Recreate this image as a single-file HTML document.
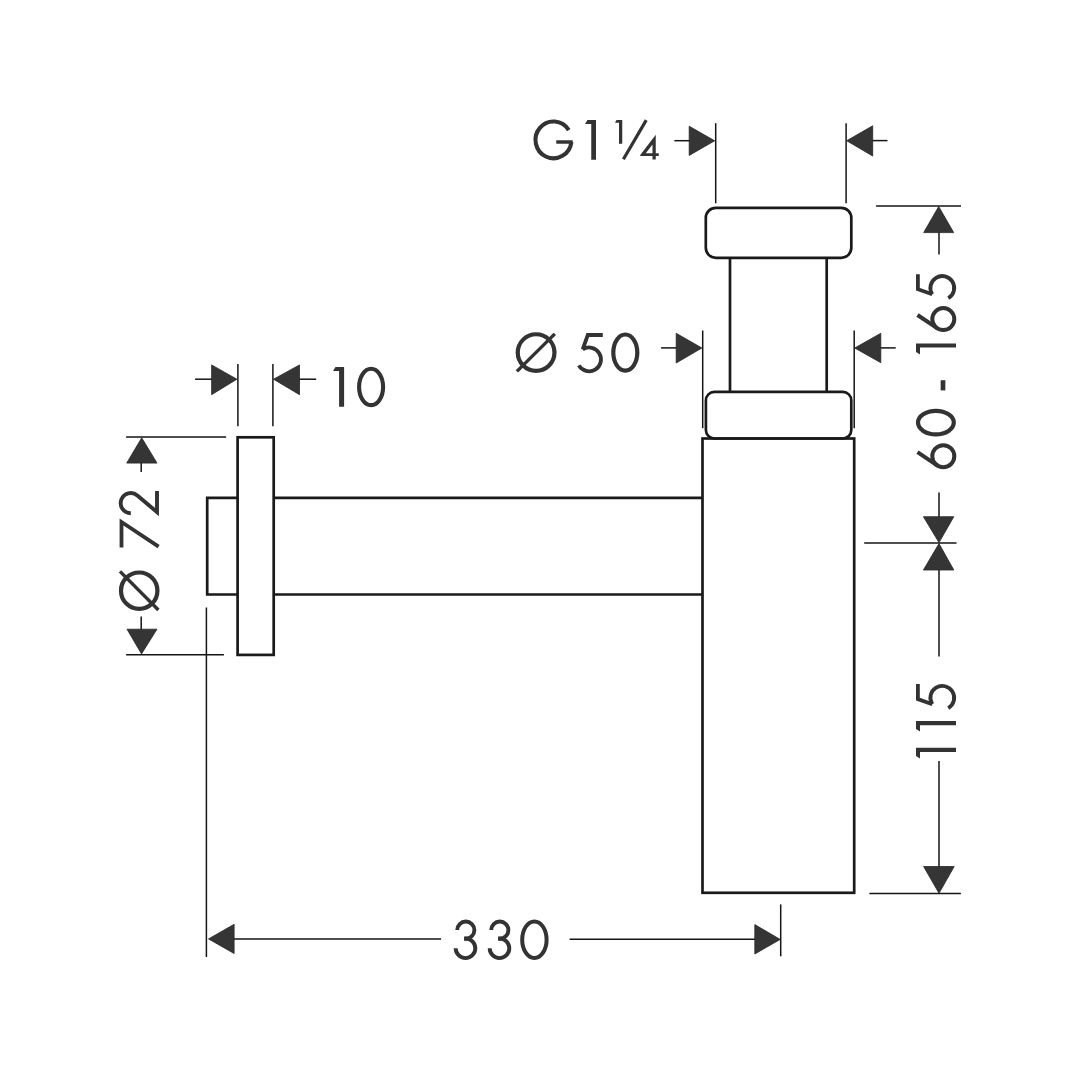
<!DOCTYPE html>
<html><head><meta charset="utf-8">
<style>
html,body{margin:0;padding:0;background:#fff;}
body{width:1080px;height:1080px;overflow:hidden;font-family:"Liberation Sans",sans-serif;}
svg{display:block;}
</style></head>
<body>
<svg width="1080" height="1080" viewBox="0 0 1080 1080">
<rect width="1080" height="1080" fill="#fff"/>
<!-- body -->
<g fill="none" stroke="#1a1a1a" stroke-width="2.7" stroke-linejoin="miter">
  <rect x="705.8" y="207.8" width="145.5" height="50" rx="10" ry="10"/>
  <line x1="730" y1="257.8" x2="730" y2="391.9"/>
  <line x1="826.7" y1="257.8" x2="826.7" y2="391.9"/>
  <rect x="705.9" y="391.9" width="145.4" height="46.6" rx="8.5" ry="8.5"/>
  <rect x="702.5" y="438.5" width="151.7" height="454.3"/>
  <line x1="273.7" y1="497.8" x2="702.5" y2="497.8"/>
  <line x1="273.7" y1="594.5" x2="702.5" y2="594.5"/>
  <rect x="237.6" y="437.3" width="36.1" height="217.6"/>
  <polyline points="237.6,497.8 207.2,497.8 207.2,594.5 237.6,594.5"/>
</g>
<!-- dimension lines -->
<g fill="none" stroke="#151515" stroke-width="1.5">
  <!-- G1 1/4 -->
  <line x1="715.7" y1="123.2" x2="715.7" y2="203.3"/>
  <line x1="846.1" y1="123.2" x2="846.1" y2="203.3"/>
  <line x1="674.4" y1="140.7" x2="690" y2="140.7"/>
  <line x1="872" y1="140.6" x2="887.5" y2="140.6"/>
  <!-- O50 -->
  <line x1="702.7" y1="330.5" x2="702.7" y2="428.2"/>
  <line x1="854.2" y1="330.5" x2="854.2" y2="428.2"/>
  <line x1="661.1" y1="347.9" x2="677" y2="347.9"/>
  <line x1="880" y1="347.9" x2="895.7" y2="347.9"/>
  <!-- right vertical -->
  <line x1="876.1" y1="206" x2="961" y2="206"/>
  <line x1="939" y1="232" x2="939" y2="254.4"/>
  <line x1="939" y1="492.4" x2="939" y2="517"/>
  <line x1="864.2" y1="543.1" x2="956.5" y2="543.1"/>
  <line x1="939" y1="569.5" x2="939" y2="656.5"/>
  <line x1="939" y1="761" x2="939" y2="867"/>
  <line x1="869.4" y1="893.5" x2="960.9" y2="893.5"/>
  <!-- 10 -->
  <line x1="237.9" y1="364" x2="237.9" y2="426.2"/>
  <line x1="272.9" y1="364" x2="272.9" y2="426.2"/>
  <line x1="195.1" y1="379.2" x2="212" y2="379.2"/>
  <line x1="299" y1="379.2" x2="316.2" y2="379.2"/>
  <!-- O72 -->
  <line x1="126.1" y1="436.9" x2="226.1" y2="436.9"/>
  <line x1="141.2" y1="462.5" x2="141.2" y2="471.9"/>
  <line x1="141.2" y1="616.4" x2="141.2" y2="629.8"/>
  <line x1="126.1" y1="654.8" x2="223.9" y2="654.8"/>
  <!-- 330 -->
  <line x1="206.4" y1="607.6" x2="206.4" y2="957"/>
  <line x1="780.7" y1="904.4" x2="780.7" y2="956.3"/>
  <line x1="233" y1="939.1" x2="441.1" y2="939.1"/>
  <line x1="569.6" y1="939.3" x2="755.5" y2="939.3"/>
</g>
<!-- arrows -->
<g fill="#353535" stroke="#262626" stroke-width="0.8" stroke-linejoin="miter">
  <polygon points="714.7,140.8 689.2,126.2 689.2,155.4"/>
  <polygon points="846.7,140.7 872.7,125.8 872.7,156.1"/>
  <polygon points="701.9,348 676.2,333.3 676.2,363"/>
  <polygon points="854.7,348 880.8,333.3 880.8,362.7"/>
  <polygon points="938.7,206.5 923.7,232.6 953.7,232.6"/>
  <polygon points="939,542.6 923.4,516.7 953.8,516.7"/>
  <polygon points="939,543.6 923.4,570 953.8,570"/>
  <polygon points="939,893.3 923.6,866.5 954.2,866.5"/>
  <polygon points="236.9,379.2 211.6,364.9 211.6,394.7"/>
  <polygon points="273.5,379.2 299.5,364.9 299.5,394.7"/>
  <polygon points="141.7,437.8 126.7,463.1 157,463.1"/>
  <polygon points="141.5,653.9 127,629.2 157,629.2"/>
  <polygon points="208.5,938.9 234.1,924.3 234.1,953.5"/>
  <polygon points="780.2,939.4 754.8,924.6 754.8,954"/>
</g>
<!-- text glyphs -->
<g fill="none" stroke="#333" stroke-width="4" stroke-linecap="butt" stroke-linejoin="miter">
  <!-- G1 1/4 -->
  <path d="M556.25 142 L572.7 142" stroke-width="3.5"/>
  <path d="M571.38 142 A18.0 18.4 0 1 1 568.76 130.15" stroke-width="4.1"/>
  <path d="M616.5,120 L622.25,120 L622.25,143.75 L619,143.75 L619,122.75 L615,122.75 Z" fill="#333" stroke="none"/>
  <path d="M587.5,120 L596,120 L596,159.75 L591.25,159.75 L591.25,124 L585,124 Z" fill="#333" stroke="none"/>
  <path d="M623.4 159.25 L646.25 120.1" stroke-width="3.2"/>
  <path d="M655.75,134.75 L655.75,153.25 L658.75,153.25 L658.75,156 L655.75,156 L655.75,159.5 L652.5,159.5 L652.5,156 L640.25,156 L640.25,155 Z M645.8,153.25 L652.5,153.25 L652.5,144.5 Z" fill="#333" stroke="none" fill-rule="evenodd"/>
  <!-- O 50 -->
  <circle cx="536.1" cy="352.6" r="18.35" stroke-width="4.2"/>
  <path d="M516.9 371.4 L554.8 333.9" stroke-width="3.4"/>
  <g transform="translate(577.5 333.1)" stroke-width="3.8">
    <path d="M25.3 1.9 L10.3 1.9 L5.2 16.26"/>
    <path d="M5.2 16.26 A11.9 11.9 0 1 1 1.29 32.25"/>
  </g>
  <ellipse cx="625.3" cy="352.6" rx="12" ry="18.1" stroke-width="4.2"/>
  <!-- 10 -->
  <path d="M335.5,366.9 L344.1,366.9 L344.1,406.7 L339.1,406.7 L339.1,370.9 L333,370.9 Z" fill="#333" stroke="none"/>
  <ellipse cx="371.1" cy="386.9" rx="12" ry="18.2" stroke-width="4.1"/>
  <!-- 330 -->
  <g transform="translate(453.5 919.8)" stroke-width="3.9">
    <path d="M3.7 10.3 A8.6 8.6 0 1 1 12.3 18.9 L10.7 18.9"/>
    <path d="M10.7 18.7 L12 18.7 A9.8 9.8 0 1 1 2.2 28.5"/>
  </g>
  <g transform="translate(487.5 919.8)" stroke-width="3.9">
    <path d="M3.7 10.3 A8.6 8.6 0 1 1 12.3 18.9 L10.7 18.9"/>
    <path d="M10.7 18.7 L12 18.7 A9.8 9.8 0 1 1 2.2 28.5"/>
  </g>
  <ellipse cx="534.4" cy="939.7" rx="12.2" ry="18.3" stroke-width="4"/>
  <!-- O 72 rotated -->
  <g transform="translate(119 611) rotate(-90)">
    <circle cx="20.3" cy="20.2" r="18.2" stroke-width="4.2"/>
    <path d="M1.0 39.4 L39.6 1.0" stroke-width="3.4"/>
    <path d="M63.4 2.5 L89.0 2.5 L64.4 39.6" stroke-width="3.8"/>
    <path d="M97.80 11.8 A10.1 10.1 0 1 1 115.60 18.34 L98.9 38.0 L120.1 38" stroke-width="3.9"/>
  </g>
  <!-- 60 - 165 rotated -->
  <g transform="translate(916 470) rotate(-90)">
    <circle cx="13.8" cy="27.3" r="11" stroke-width="4"/>
    <path d="M17.9 1.5 L4.7 21.1" stroke-width="4"/>
    <ellipse cx="47.4" cy="19.9" rx="11.8" ry="17.9" stroke-width="4.2"/>
    <path d="M79.6 27 L89.8 27" stroke-width="4.7"/>
    <path d="M118,0 L126.5,0 L126.5,40 L122.4,40 L122.4,4 L115.5,4 Z" fill="#333" stroke="none"/>
    <g transform="translate(137.1 0)">
      <circle cx="13.8" cy="27.3" r="11" stroke-width="4"/>
      <path d="M17.9 1.5 L4.7 21.1" stroke-width="4"/>
    </g>
    <g transform="translate(170.5 0)" stroke-width="3.8">
      <path d="M25.3 1.9 L10.3 1.9 L5.2 16.26"/>
      <path d="M5.2 16.26 A11.9 11.9 0 1 1 1.29 32.25"/>
    </g>
  </g>
  <!-- 115 rotated -->
  <g transform="translate(916 758.4) rotate(-90)">
    <path d="M2.5,0 L10.6,0 L10.6,40 L6.5,40 L6.5,4 L0,4 Z" fill="#333" stroke="none"/>
    <path d="M29.3,0 L37.5,0 L37.5,40 L33.2,40 L33.2,4 L26.8,4 Z" fill="#333" stroke="none"/>
    <g transform="translate(49 0)" stroke-width="3.8">
      <path d="M25.3 1.9 L10.3 1.9 L5.2 16.26"/>
      <path d="M5.2 16.26 A11.9 11.9 0 1 1 1.29 32.25"/>
    </g>
  </g>
</g>
</svg>
</body></html>
